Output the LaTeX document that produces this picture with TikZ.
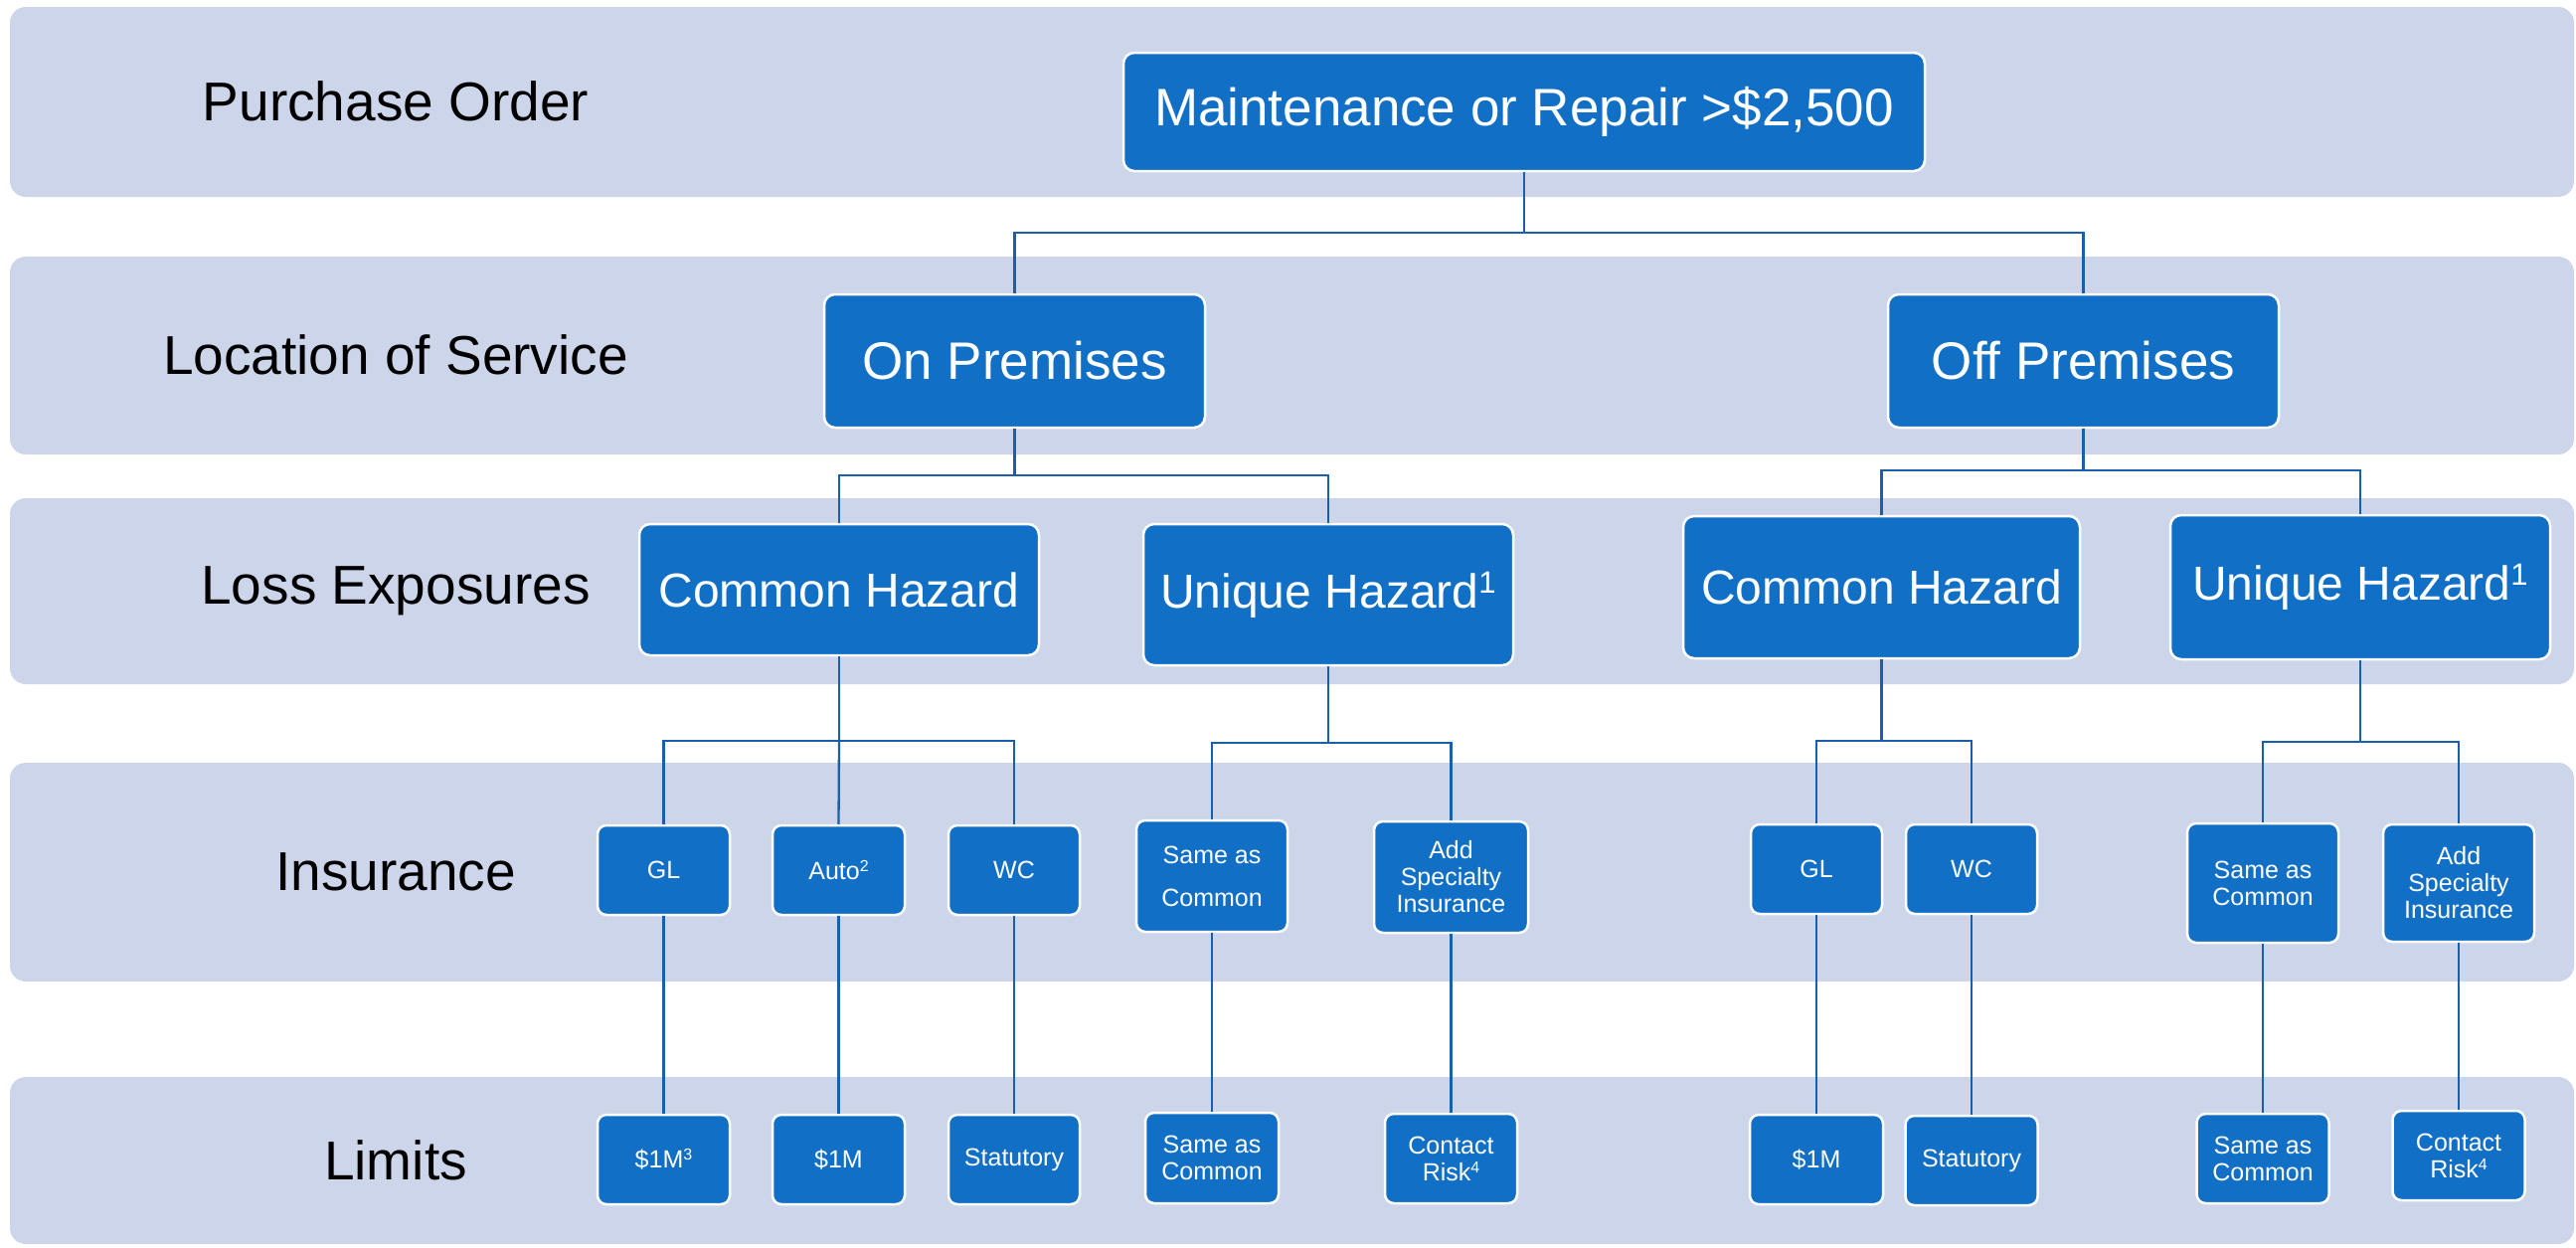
\documentclass[tikz,border=0pt]{standalone}
\usepackage{fontspec}
\setmainfont{Liberation Sans}
\definecolor{bandfill}{RGB}{205,213,234}
\definecolor{boxfill}{RGB}{17,111,198}
\definecolor{linkcol}{RGB}{24,96,172}
% footnote marks: raised, reduced figures
\newcommand\bigmark[1]{\raisebox{15pt}{\fontsize{31}{31}\selectfont #1}}
\newcommand\smallmark[1]{\raisebox{8pt}{\fontsize{16}{16}\selectfont #1}}
\tikzset{
  band/.style={fill=bandfill, draw=none, rounded corners=16pt},
  rowlabel/.style={font=\fontsize{55}{60}\selectfont, text=black, anchor=center},
  bigbox/.style={fill=boxfill, draw=white, line width=2.5pt, rounded corners=11pt,
    text=white, font=\fontsize{53}{58}\selectfont, align=center, inner sep=0pt},
  hazbox/.style={bigbox, font=\fontsize{48}{54}\selectfont},
  smallbox/.style={fill=boxfill, draw=white, line width=2.5pt, rounded corners=9pt,
    text=white, font=\fontsize{25}{27}\selectfont, align=center, inner sep=0pt},
  link/.style={draw=linkcol, line width=2.3pt}
}
\begin{document}
\begin{tikzpicture}[x=1pt,y=-1pt]
\useasboundingbox (0,0) rectangle (2591,1254);

% horizontal bands
\fill[band] (10,7) rectangle (2589,198);
\fill[band] (10,258) rectangle (2589,457);
\fill[band] (10,501) rectangle (2589,688);
\fill[band] (10,767) rectangle (2589,987);
\fill[band] (10,1083) rectangle (2589,1251);

% row titles
\node[rowlabel] (lbl1) at (398,102) {Purchase Order};
\node[rowlabel] (lbl2) at (398,357) {Location of Service};
\node[rowlabel] (lbl3) at (398,594) {Loss Exposures};
\node[rowlabel] (lbl4) at (398,877) {Insurance};
\node[rowlabel] (lbl5) at (398,1167) {Limits};

% top levels
\node[bigbox, minimum width=806pt, minimum height=119pt] (maint) at (1533,112.5) {Maintenance or Repair >\$2,500};
\node[bigbox, minimum width=383pt, minimum height=134pt] (onprem) at (1020.5,363) {On Premises};
\node[bigbox, minimum width=393pt, minimum height=134pt] (offprem) at (2095.5,363) {Off Premises};

\node[hazbox, minimum width=402pt, minimum height=132pt] (comL) at (844,593) {Common Hazard};
\node[hazbox, minimum width=372pt, minimum height=142pt] (uniL) at (1336,598) {Unique Hazard\bigmark{1}};
\node[hazbox, minimum width=399pt, minimum height=143pt] (comR) at (1892.5,590.5) {Common Hazard};
\node[hazbox, minimum width=382pt, minimum height=145pt] (uniR) at (2374,590.5) {Unique Hazard\bigmark{1}};

% insurance row
\node[smallbox, minimum width=133pt, minimum height=90pt] (glL) at (667.5,875) {GL};
\node[smallbox, minimum width=133pt, minimum height=90pt] (autoL) at (843.5,875) {Auto\smallmark{2}};
\node[smallbox, minimum width=132pt, minimum height=90pt] (wcL) at (1020,875) {WC};
\node[smallbox, minimum width=152pt, minimum height=112pt, font=\fontsize{25}{43}\selectfont] (sameL) at (1219,881) {Same as\\Common};
\node[smallbox, minimum width=155pt, minimum height=112pt] (addL) at (1459.5,882) {Add\\Specialty\\Insurance};
\node[smallbox, minimum width=132pt, minimum height=90pt] (glR) at (1827,874) {GL};
\node[smallbox, minimum width=132pt, minimum height=90pt] (wcR) at (1983,874) {WC};
\node[smallbox, minimum width=152pt, minimum height=120pt] (sameR) at (2276,888) {Same as\\Common};
\node[smallbox, minimum width=152pt, minimum height=118pt] (addR) at (2473,888) {Add\\Specialty\\Insurance};

% limits row
\node[smallbox, minimum width=133pt, minimum height=90pt] (limA) at (667.5,1166) {\$1M\smallmark{3}};
\node[smallbox, minimum width=133pt, minimum height=90pt] (limB) at (843.5,1166) {\$1M};
\node[smallbox, minimum width=132pt, minimum height=90pt] (limC) at (1020,1166) {Statutory};
\node[smallbox, minimum width=134pt, minimum height=91pt] (limD) at (1219,1164.5) {Same as\\Common};
\node[smallbox, minimum width=133pt, minimum height=90pt] (limE) at (1459.5,1165) {Contact\\Risk\smallmark{4}};
\node[smallbox, minimum width=134pt, minimum height=90pt] (limF) at (1827,1166) {\$1M};
\node[smallbox, minimum width=133pt, minimum height=90pt] (limG) at (1983,1167) {Statutory};
\node[smallbox, minimum width=133pt, minimum height=90pt] (limH) at (2276,1165) {Same as\\Common};
\node[smallbox, minimum width=133pt, minimum height=90pt] (limI) at (2473,1162) {Contact\\Risk\smallmark{4}};

% bus points of the tree connectors
\coordinate (busTop) at (1533,234);
\coordinate (busOn) at (1020.5,478);
\coordinate (busOff) at (2095.5,473);
\coordinate (busComL) at (844,745);
\coordinate (busUniL) at (1336,747);
\coordinate (busComR) at (1892.5,745);
\coordinate (busUniR) at (2374,746);

\draw[link] (maint.south) -- (busTop) -| (onprem.north);
\draw[link] (busTop) -| (offprem.north);

\draw[link] (onprem.south) -- (busOn) -| (comL.north);
\draw[link] (busOn) -| (uniL.north);
\draw[link] (offprem.south) -- (busOff) -| (comR.north);
\draw[link] (busOff) -| (uniR.north);

\draw[link] (comL.south) -- (busComL) -| (glL.north);
\draw[link] (busComL) -- (autoL.north);
\draw[link] (busComL) -| (wcL.north);
\draw[link] (uniL.south) -- (busUniL) -| (sameL.north);
\draw[link] (busUniL) -| (addL.north);
\draw[link] (comR.south) -- (busComR) -| (glR.north);
\draw[link] (busComR) -| (wcR.north);
\draw[link] (uniR.south) -- (busUniR) -| (sameR.north);
\draw[link] (busUniR) -| (addR.north);

\draw[link] (glL.south) -- (limA.north);
\draw[link] (autoL.south) -- (limB.north);
\draw[link] (wcL.south) -- (limC.north);
\draw[link] (sameL.south) -- (sameL.south |- limD.north);
\draw[link] (addL.south) -- (limE.north);
\draw[link] (glR.south) -- (limF.north);
\draw[link] (wcR.south) -- (limG.north);
\draw[link] (sameR.south) -- (limH.north);
\draw[link] (addR.south) -- (limI.north);
\end{tikzpicture}
\end{document}
